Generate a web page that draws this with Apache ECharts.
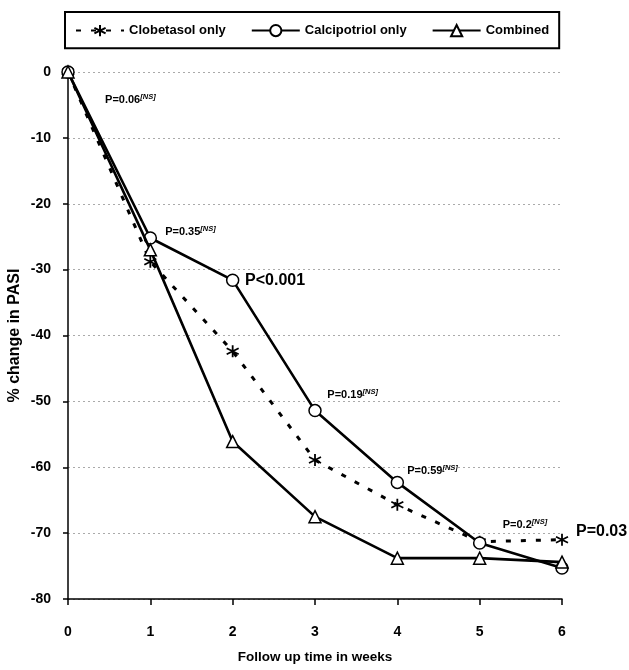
<!DOCTYPE html>
<html><head><meta charset="utf-8">
<script src="https://cdn.jsdelivr.net/npm/echarts@6/dist/echarts.min.js"></script>
<style>html,body{margin:0;padding:0;background:#fff}#c{width:629px;height:670px}</style>
</head><body><div id="c"></div>
<script>
const weeks = ['0','1','2','3','4','5','6'];
const clobetasol = [0, -28.8, -42.4, -58.9, -65.7, -71.3, -71.0];
const calcipotriol = [0, -25.2, -31.6, -51.4, -62.3, -71.5, -75.3];
const combined = [0, -27.0, -56.1, -67.5, -73.8, -73.8, -74.4];
const seriesNames = ['Clobetasol only', 'Calcipotriol only', 'Combined'];
// [week, value, text, notSignificant, large]
const pAnnotations = [
  [0.45, -4.3, 'P=0.06', true, false],
  [1.18, -24.3, 'P=0.35', true, false],
  [2.15, -31.6, 'P<0.001', false, true],
  [3.15, -49.0, 'P=0.19', true, false],
  [4.12, -60.5, 'P=0.59', true, false],
  [5.28, -68.7, 'P=0.2', true, false],
  [6.17, -69.7, 'P=0.03', false, true]
];

const FONT = "'Liberation Sans',Arial,sans-serif";
const ASTERISK = 'path://M5,0L5,10M0.7,2.5L9.3,7.5M9.3,2.5L0.7,7.5';

const chart = echarts.init(document.getElementById('c'), null, {renderer: 'canvas'});
chart.setOption({
  animation: false,
  backgroundColor: '#fff',
  grid: {left: 68, right: 67, top: 72, bottom: 71, containLabel: false, outerBoundsMode: 'none'},
  legend: {
    data: seriesNames,
    left: 65, top: 12,
    padding: [12, 10, 11, 10],
    itemGap: 25, itemWidth: 48, itemHeight: 14,
    borderColor: '#000', borderWidth: 2, backgroundColor: '#fff',
    textStyle: {fontFamily: FONT, fontSize: 13, fontWeight: 'bold', color: '#000'}
  },
  xAxis: {
    type: 'value', min: 0, max: 6, interval: 1,
    name: 'Follow up time in weeks', nameLocation: 'middle', nameGap: 51, nameMoveOverlap: false,
    nameTextStyle: {fontFamily: FONT, fontSize: 13.5, fontWeight: 'bold', color: '#000'},
    axisLine: {onZero: false, lineStyle: {color: '#000', width: 1.5}},
    axisTick: {show: true, length: 6, lineStyle: {color: '#000', width: 1.5}},
    axisLabel: {margin: 26, fontFamily: FONT, fontSize: 14, fontWeight: 'bold', color: '#000',
      formatter: v => weeks[v]},
    splitLine: {show: false}
  },
  yAxis: {
    type: 'value', min: -80, max: 0, interval: 10,
    name: '% change in PASI', nameLocation: 'middle', nameGap: 45, nameMoveOverlap: false,
    nameTextStyle: {fontFamily: FONT, fontSize: 16, fontWeight: 'bold', color: '#000'},
    axisLine: {show: true, onZero: false, lineStyle: {color: '#000', width: 1.5}},
    axisTick: {show: true, length: 5, lineStyle: {color: '#000', width: 1.5}},
    axisLabel: {margin: 17, fontFamily: FONT, fontSize: 14, fontWeight: 'bold', color: '#000'},
    splitLine: {show: true, lineStyle: {color: '#aaa', width: 1, type: [2, 3]}}
  },
  series: [
    {
      name: seriesNames[0], type: 'line', z: 3,
      data: clobetasol.map((v, i) => [i, v]),
      symbol: ASTERISK, symbolSize: 12, showAllSymbol: true,
      lineStyle: {color: '#000', width: 3, type: [5, 10]},
      itemStyle: {color: 'rgba(0,0,0,0)', borderColor: '#000', borderWidth: 1.8}
    },
    {
      name: seriesNames[1], type: 'line', z: 4,
      data: calcipotriol.map((v, i) => [i, v]),
      symbol: 'circle', symbolSize: 12, showAllSymbol: true,
      lineStyle: {color: '#000', width: 2.6},
      itemStyle: {color: '#fff', borderColor: '#000', borderWidth: 1.5}
    },
    {
      name: seriesNames[2], type: 'line', z: 5,
      data: combined.map((v, i) => [i, v]),
      symbol: 'triangle', symbolSize: 12, showAllSymbol: true,
      lineStyle: {color: '#000', width: 2.6},
      itemStyle: {color: '#fff', borderColor: '#000', borderWidth: 1.5}
    },
    {
      name: 'annotations', type: 'scatter', z: 6, silent: true, clip: false,
      symbolSize: 0,
      itemStyle: {opacity: 1},
      data: pAnnotations.map(a => ({
        value: [a[0], a[1]],
        label: {
          show: true, position: 'right', distance: 0,
          formatter: a[4] ? '{big|' + a[2] + '}' : '{p|' + a[2] + '}' + (a[3] ? '{ns|[NS]}' : '')
        }
      })),
      label: {
        color: '#000', opacity: 1,
        rich: {
          p: {fontFamily: FONT, fontSize: 11, fontWeight: 'bold', color: '#000', lineHeight: 14},
          ns: {fontFamily: FONT, fontSize: 7.5, fontStyle: 'italic', fontWeight: 'bold', color: '#000', verticalAlign: 'top', lineHeight: 14, padding: [0, 0, 6, 0]},
          big: {fontFamily: FONT, fontSize: 16, fontWeight: 'bold', color: '#000'}
        }
      }
    }
  ]
});
</script></body></html>
